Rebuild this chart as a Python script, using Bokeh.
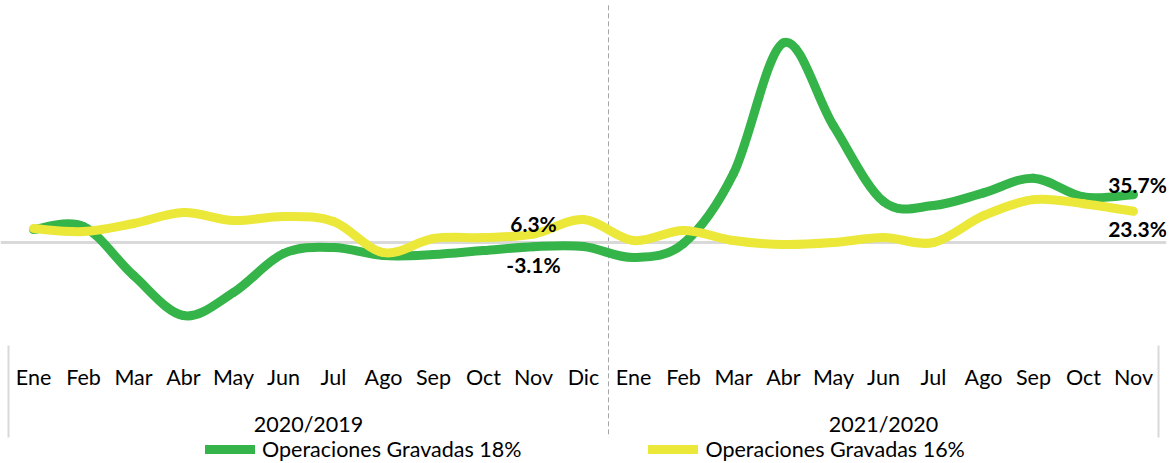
from bokeh.plotting import figure
from bokeh.models import (FactorRange, Range1d, Span, Legend, LegendItem,
                          ColumnDataSource)
from bokeh.core.properties import value
from bokeh.embed import file_html
from bokeh.resources import INLINE

# ---------------- data ----------------
groups = ["2020/2019", "2021/2020"]
months_2020 = ["Ene", "Feb", "Mar", "Abr", "May", "Jun", "Jul", "Ago", "Sep", "Oct", "Nov", "Dic"]
months_2021 = ["Ene", "Feb", "Mar", "Abr", "May", "Jun", "Jul", "Ago", "Sep", "Oct", "Nov"]
green_18 = [9.7, 11.9, -24.6, -54.5, -37.3, -8.2, -3.7, -9.7, -9.0, -6.0, -3.1, -3.0,
            -11.2, -0.7, 51.5, 149.0, 87.0, 30.6, 27.6, 37.0, 48.0, 34.0, 35.7]
yellow_16 = [10.4, 8.2, 14.2, 22.4, 16.4, 19.4, 15.7, -7.5, 3.0, 3.7, 6.3, 17.2,
             1.5, 9.0, 1.5, -1.5, 0.0, 3.7, 0.0, 20.0, 32.0, 29.0, 23.3]
series_names = ["Operaciones Gravadas 18%", "Operaciones Gravadas 16%"]

factors = [(groups[0], m) for m in months_2020] + [(groups[1], m) for m in months_2021]
n = len(factors)

GREEN = "#35B44A"
YELLOW = "#EBE83A"
FONT = "Lato"

Y_TOP, Y_BOTTOM = 180.6, -164.9     # plot window (percent)
AXIS_Y = -76.9                      # where the category axis sits
SEP_TOP, SEP_BOTTOM = 177.0, -145.5 # extent of the separator lines


def bezier_source(ys):
    xs = [i + 0.5 for i in range(len(ys))]
    d = dict(x0=[], y0=[], x1=[], y1=[], cx0=[], cy0=[], cx1=[], cy1=[])
    m = len(ys)
    for i in range(m - 1):
        a = i - 1 if i > 0 else i
        b = i + 2 if i + 2 < m else i + 1
        d["x0"].append(xs[i]); d["y0"].append(ys[i])
        d["x1"].append(xs[i + 1]); d["y1"].append(ys[i + 1])
        d["cx0"].append(xs[i] + (xs[i + 1] - xs[a]) / 6.0)
        d["cy0"].append(ys[i] + (ys[i + 1] - ys[a]) / 6.0)
        d["cx1"].append(xs[i + 1] - (xs[b] - xs[i]) / 6.0)
        d["cy1"].append(ys[i + 1] - (ys[b] - ys[i]) / 6.0)
    return ColumnDataSource(d)


p = figure(x_range=FactorRange(*factors, factor_padding=0, group_padding=0,
                               range_padding=0.16, range_padding_units="absolute"),
           y_range=Range1d(Y_BOTTOM, Y_TOP),
           width=1170, height=463,
           min_border_left=0, min_border_right=4, min_border_top=0, min_border_bottom=0,
           output_backend="svg", toolbar_location=None, y_axis_location=None,
           background_fill_color="white", border_fill_color="white")
p.outline_line_color = None
p.xgrid.visible = False
p.ygrid.visible = False

# zero line
p.add_layout(Span(location=0, dimension="width", line_color="#D9D9D9", line_width=3, level="underlay"))

# year separator (dashed) and edge lines of the category area
split = len(months_2020)
p.segment(x0=[split], y0=[SEP_TOP], x1=[split], y1=[SEP_BOTTOM],
          line_color="#A6A6A6", line_width=1, line_dash="5 3", level="underlay")
p.segment(x0=[0, n], y0=[AXIS_Y, AXIS_Y], x1=[0, n], y1=[SEP_BOTTOM, SEP_BOTTOM],
          line_color="#D9D9D9", line_width=2, level="underlay")

r_g = p.bezier(x0="x0", y0="y0", x1="x1", y1="y1", cx0="cx0", cy0="cy0", cx1="cx1", cy1="cy1",
               source=bezier_source(green_18), line_color=GREEN, line_width=9, line_cap="round")
r_y = p.bezier(x0="x0", y0="y0", x1="x1", y1="y1", cx0="cx0", cy0="cy0", cx1="cx1", cy1="cy1",
               source=bezier_source(yellow_16), line_color=YELLOW, line_width=9, line_cap="round")

# data labels
i_nov20 = len(months_2020) - 2
i_last = n - 1
lab_vals = [yellow_16[i_nov20], green_18[i_nov20], green_18[i_last], yellow_16[i_last]]
lab = ColumnDataSource(dict(
    x=[i_nov20 + 0.5, i_nov20 + 0.5, i_last + 0.5, i_last + 0.5],
    y=lab_vals,
    t=[f"{v:.1f}%" for v in lab_vals],
    yo=[-11, 18, -10, 17],
    xo=[0, 0, 4, 4],
))
p.text(x="x", y="y", text="t", x_offset="xo", y_offset="yo", source=lab,
       text_font=value(FONT), text_font_style="bold", text_font_size="21px",
       text_color="#000000", text_align="center", text_baseline="middle")

ax = p.xaxis[0]
ax.fixed_location = AXIS_Y
ax.axis_line_color = None
ax.major_tick_line_color = None
ax.minor_tick_line_color = None
ax.major_tick_out = 0
ax.major_tick_in = 0
ax.major_label_standoff = 18
ax.major_label_text_font = FONT
ax.major_label_text_font_size = "21.5px"
ax.major_label_text_color = "#000000"
ax.group_text_font = FONT
ax.group_text_font_size = "21.5px"
ax.group_text_font_style = "normal"
ax.group_text_color = "#000000"
ax.separator_line_color = None

legend = Legend(items=[LegendItem(label=series_names[0], renderers=[r_g]),
                       LegendItem(label=series_names[1], renderers=[r_y])],
                orientation="horizontal", location=(205, 1),
                glyph_width=50, glyph_height=20, label_standoff=7, spacing=127,
                label_text_font=FONT, label_text_font_size="21.5px", label_text_color="#000000",
                border_line_color=None, background_fill_alpha=0, padding=0, margin=0)
p.add_layout(legend)

open("out.html", "w").write(file_html(p, INLINE))
